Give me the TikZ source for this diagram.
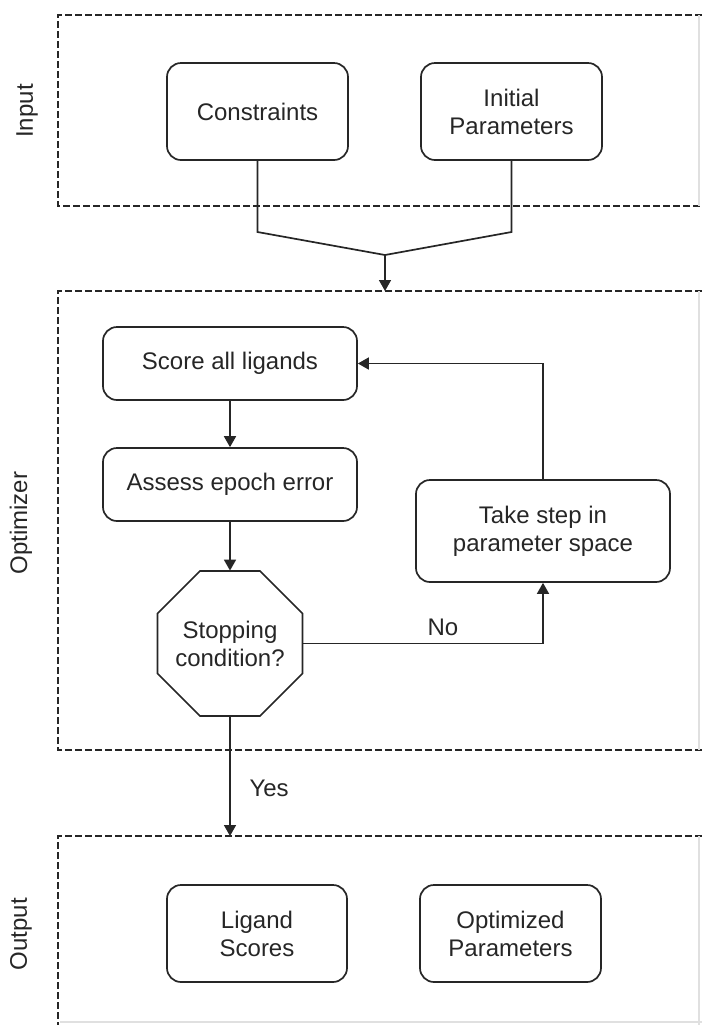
\documentclass[tikz,border=0pt]{standalone}
\usepackage{fontspec}
\setmainfont{Liberation Sans}
\usetikzlibrary{arrows.meta}
\begin{document}
\begin{tikzpicture}[x=0.5pt,y=-0.5pt,
  every node/.style={font=\fontsize{12}{14}\selectfont, text=black!85},
  stage/.style={draw=black!85, line width=1pt, dash pattern=on 3.5pt off 1.5pt},
  faint/.style={draw=black!12, line width=0.6pt},
  procbox/.style={draw=black!85, line width=0.85pt, rounded corners=7pt, align=center, inner sep=0pt},
  decbox/.style={minimum width=72.5pt, minimum height=72.5pt, inner sep=0pt, align=center},
  outline/.style={draw=black!85, line width=0.85pt, line join=miter},
  conn/.style={draw=black!85, line width=0.85pt},
  arr/.style={conn, -{Triangle[length=5.5pt,width=6pt]}},
  lanelabel/.style={rotate=90, anchor=center}
]
\useasboundingbox (0,0) rectangle (702,1025);

% stage frames
\draw[stage] (702,15) -- (58,15) -- (58,206) -- (702,206);
\draw[stage] (702,291) -- (58,291) -- (58,750) -- (702,750);
\draw[stage] (702,836) -- (58,836) -- (58,1025);
\draw[faint] (699,15) -- (699,206);
\draw[faint] (699,291) -- (699,750);
\draw[faint] (699,836) -- (699,1025);
\draw[faint] (60,1022) -- (702,1022);

% lane labels
\node[lanelabel] (lin) at (27,111) {Input};
\node[lanelabel] (lopt) at (21,523) {Optimizer};
\node[lanelabel] (lout) at (21,934) {Output};

% input
\node[procbox, minimum width=90.5pt, minimum height=48.5pt] (cons) at (257.5,111.5) {Constraints};
\node[procbox, minimum width=90.5pt, minimum height=48.5pt] (init) at (511.5,111.5) {Initial\\Parameters};

% optimizer
\node[procbox, minimum width=127pt, minimum height=36.5pt] (score) at (230,363.5) {Score all ligands};
\node[procbox, minimum width=127pt, minimum height=36.5pt] (assess) at (230,484.5) {Assess epoch error};
\node[procbox, minimum width=127pt, minimum height=51pt] (take) at (543,531) {Take step in\\parameter space};
\node[decbox] (stop) at (230,643.5) {Stopping\\condition?};
\draw[outline] ([shift={(-30,-72.5)}]stop.center) -- ([shift={(30,-72.5)}]stop.center)
  -- ([shift={(72.5,-30)}]stop.center) -- ([shift={(72.5,30)}]stop.center)
  -- ([shift={(30,72.5)}]stop.center) -- ([shift={(-30,72.5)}]stop.center)
  -- ([shift={(-72.5,30)}]stop.center) -- ([shift={(-72.5,-30)}]stop.center) -- cycle;

% output
\node[procbox, minimum width=90pt, minimum height=48.5pt] (lig) at (257,933.5) {Ligand\\Scores};
\node[procbox, minimum width=90.5pt, minimum height=48.5pt] (optp) at (510.5,933.5) {Optimized\\Parameters};

% helper coordinates
\coordinate (bend) at (0,232);
\coordinate (merge) at (385,255);
\coordinate (opttop) at (385,291);
\coordinate (outtop) at (230,836);

% connectors
\draw[conn] (cons.south) -- (cons.south |- bend) -- (merge);
\draw[conn] (init.south) -- (init.south |- bend) -- (merge);
\draw[arr] (merge) -- (opttop);
\draw[arr] (score.south) -- (assess.north);
\draw[arr] (assess.south) -- (stop.north);
\draw[arr] (stop.east) -| (take.south) node[pos=0.5, above=0pt, xshift=-50pt] (nolbl) {No};
\draw[arr] (take.north) |- (score.east);
\draw[arr] (stop.south) -- (outtop) node[pos=0.6, right=6pt] (yeslbl) {Yes};
\end{tikzpicture}
\end{document}
